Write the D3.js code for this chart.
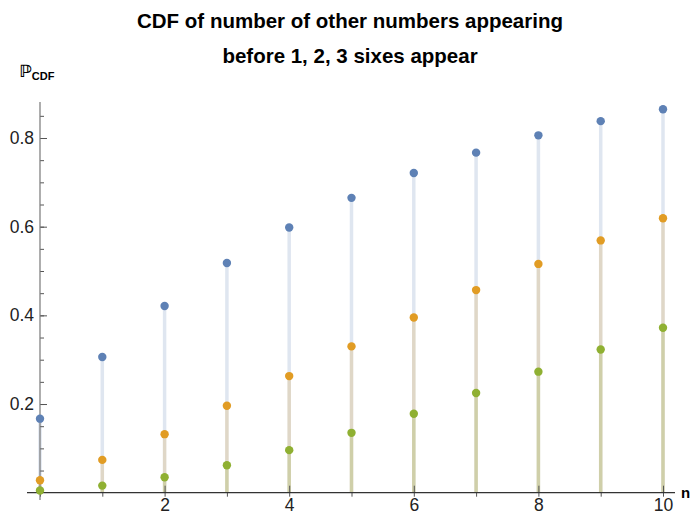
<!DOCTYPE html>
<html>
<head>
<meta charset="utf-8">
<script src="https://cdn.jsdelivr.net/npm/d3@7"></script>
<style>
	body { margin: 0; background: #fff; }
	text { font-family: "Liberation Sans", Arial, sans-serif; }
</style>
</head>
<body>
<svg id="chart" width="699" height="527"></svg>
<script>
const nValues = [0, 1, 2, 3, 4, 5, 6, 7, 8, 9, 10];
const oneSix = [0.167, 0.306, 0.421, 0.518, 0.598, 0.665, 0.721, 0.767, 0.806, 0.838, 0.865];
const twoSixes = [0.028, 0.074, 0.132, 0.196, 0.263, 0.330, 0.395, 0.457, 0.516, 0.569, 0.619];
const threeSixes = [0.005, 0.016, 0.035, 0.062, 0.096, 0.135, 0.178, 0.225, 0.273, 0.323, 0.372];
const xTicks = [2, 4, 6, 8, 10];
const yTicks = [0.2, 0.4, 0.6, 0.8];

const series = [
	{ values: oneSix, color: "#5e81b5" },
	{ values: twoSixes, color: "#e19c24" },
	{ values: threeSixes, color: "#8fb032" }
];

const svg = d3.select("#chart");

const x = d3.scaleLinear().domain([0, 10]).range([40, 663]);
const y = d3.scaleLinear().domain([0, 0.8]).range([492.7, 138]);

// title
svg.append("text")
	.attr("x", 350).attr("y", 28)
	.attr("text-anchor", "middle")
	.attr("font-size", 20.5).attr("font-weight", "bold")
	.text("CDF of number of other numbers appearing");
svg.append("text")
	.attr("x", 350).attr("y", 63)
	.attr("text-anchor", "middle")
	.attr("font-size", 20.5).attr("font-weight", "bold")
	.text("before 1, 2, 3 sixes appear");

// filling lines (drawn first)
series.forEach((s) => {
	svg.append("g")
		.selectAll("line")
		.data(nValues)
		.enter()
		.append("line")
		.attr("x1", (d) => x(d))
		.attr("x2", (d) => x(d))
		.attr("y1", y(0))
		.attr("y2", (d, i) => y(s.values[i]))
		.attr("stroke", s.color)
		.attr("stroke-opacity", 0.2)
		.attr("stroke-width", 3.5);
});

// axes
const xAxisMinor = d3.axisBottom(x).tickValues(d3.range(0, 11)).tickSize(4).tickFormat("");
const xAxis = d3.axisBottom(x).tickValues(xTicks).tickSize(7).tickFormat(d3.format("d"));
const yAxisMinor = d3.axisLeft(y).tickValues(d3.range(0.05, 0.86, 0.05)).tickSize(-4).tickFormat("");
const yAxis = d3.axisLeft(y).tickValues(yTicks).tickSize(-7).tickFormat(d3.format(".1f"));

function styleAxis(g) {
	g.selectAll(".domain").remove();
	g.selectAll(".tick line").attr("stroke", "#555").attr("stroke-width", 1);
	g.selectAll(".tick text").attr("font-size", 17.5).attr("fill", "#222")
		.attr("font-family", "\"Liberation Sans\", Arial, sans-serif");
}

svg.append("g").attr("transform", `translate(0,${y(0)})`).call(xAxisMinor).call(styleAxis);
const gx = svg.append("g").attr("transform", `translate(0,${y(0)})`).call(xAxis).call(styleAxis);
gx.selectAll(".tick line").attr("transform", "translate(0,-7)");
gx.selectAll(".tick text").attr("y", 5).attr("dy", "0.75em");
svg.append("g").attr("transform", `translate(${x(0)},0)`).call(yAxisMinor).call(styleAxis);
const gy = svg.append("g").attr("transform", `translate(${x(0)},0)`).call(yAxis).call(styleAxis);
gy.selectAll(".tick text").attr("x", -6);

svg.append("line")
	.attr("x1", 27).attr("x2", 675)
	.attr("y1", y(0)).attr("y2", y(0))
	.attr("stroke", "#333").attr("stroke-width", 1.2);
svg.append("line")
	.attr("x1", x(0)).attr("x2", x(0))
	.attr("y1", 102).attr("y2", 500)
	.attr("stroke", "#777").attr("stroke-width", 1.2);

// axis labels
svg.append("text")
	.attr("x", 681).attr("y", y(0) + 5)
	.attr("font-size", 15).attr("font-weight", "bold")
	.text("n");
const yl = svg.append("text")
	.attr("x", 19).attr("y", 77)
	.attr("font-size", 17).attr("font-weight", "bold");
yl.append("tspan").text("ℙ").attr("font-family", "\"DejaVu Sans\", sans-serif");
yl.append("tspan").text("CDF").attr("font-size", 11).attr("dy", 3);

// points
series.forEach((s) => {
	svg.append("g")
		.selectAll("circle")
		.data(nValues)
		.enter()
		.append("circle")
		.attr("cx", (d) => x(d))
		.attr("cy", (d, i) => y(s.values[i]))
		.attr("r", 4.2)
		.attr("fill", s.color);
});
</script>
</body>
</html>
